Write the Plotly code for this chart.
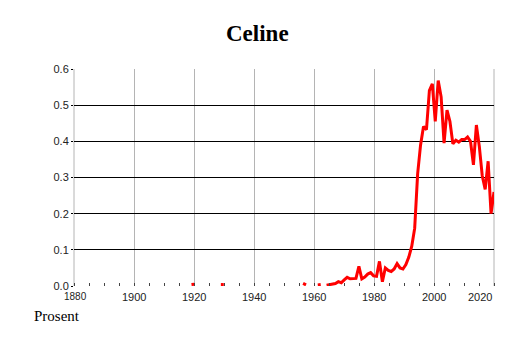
import plotly.graph_objects as go

# ---- data (share of girls named Celine, percent) ----
years = list(range(1920, 2024))
values = [
    0.004, 0.005, None, None, None, None, None, None, None, None,      # 1920s
    0.004, 0.004, None, None, None, None, None, None, None, None,      # 1930s
    None, None, None, None, None, None, None, None, None, None,        # 1940s
    None, None, None, None, None, None, None, None, 0.007, 0.003,      # 1950s
    None, None, None, 0.003, 0.004, None, 0.002, 0.003, 0.006, 0.007,  # 1960s
    0.012, 0.009, 0.017, 0.024, 0.020, 0.021, 0.021, 0.054, 0.020, 0.025,  # 1970s
    0.033, 0.037, 0.028, 0.027, 0.068, 0.012, 0.050, 0.043, 0.040, 0.047,  # 1980s
    0.062, 0.050, 0.047, 0.059, 0.080, 0.110, 0.160, 0.310, 0.390, 0.441,  # 1990s
    0.432, 0.540, 0.559, 0.455, 0.568, 0.523, 0.395, 0.486, 0.455, 0.393,  # 2000s
    0.403, 0.398, 0.405, 0.405, 0.412, 0.400, 0.335, 0.445, 0.386, 0.305,  # 2010s
    0.267, 0.345, 0.200, 0.260,                                           # 2020s
]
assert len(years) == len(values)

x_ticks = [1880, 1900, 1920, 1940, 1960, 1980, 2000, 2020]
x_tick_labels = ["1880", "1900", "1920", "1940", "1960", "1980", "2000", "2020"]
y_ticks = [0.0, 0.1, 0.2, 0.3, 0.4, 0.5, 0.6]
title_text = "Celine"
y_unit = "Prosent"

fig = go.Figure()
fig.add_trace(go.Scatter(
    x=years, y=values, mode="lines", xaxis="x2", yaxis="y",
    line=dict(color="#ff0000", width=3), connectgaps=False,
    hoverinfo="skip", showlegend=False,
))

sans = "Liberation Sans, Arial, sans-serif"
serif = "Liberation Serif, Times New Roman, serif"

# page body has an 8px margin, so the figure is offset by (8, 8)
fig.update_layout(
    width=506, height=335,
    margin=dict(l=66, r=20, t=61, b=57),
    paper_bgcolor="white", plot_bgcolor="white",
    xaxis=dict(
        range=[1880, 2020], tickmode="array", tickvals=x_ticks,
        showticklabels=False, showgrid=True, gridcolor="#b4b4b4", gridwidth=1,
        zeroline=False, showline=False, ticks="",
        minor=dict(dtick=5, tick0=1880, ticks="inside", ticklen=3,
                   tickcolor="#444", tickwidth=1, showgrid=False),
        fixedrange=True,
    ),
    xaxis2=dict(range=[1880, 2023], overlaying="x", visible=False, fixedrange=True),
    yaxis=dict(
        range=[0, 0.6], tickmode="array", tickvals=y_ticks, tickformat=".1f",
        showgrid=True, gridcolor="#000000", gridwidth=1, zeroline=False,
        showline=False, ticks="outside", ticklen=2, tickcolor="#000",
        tickfont=dict(family=sans, size=11, color="#222"),
        fixedrange=True,
    ),
    shapes=[
        dict(type="line", xref="paper", yref="paper", x0=0, x1=0, y0=0, y1=1,
             line=dict(color="#b4b4b4", width=1), layer="below"),
        dict(type="line", xref="paper", yref="paper", x0=1, x1=1, y0=0, y1=1,
             line=dict(color="#b4b4b4", width=1), layer="below"),
    ],
)

# title
fig.add_annotation(
    text="<b>%s</b>" % title_text, xref="paper", yref="paper",
    x=(257 - 74) / 420, y=1 + (69 - 33) / 217,
    xanchor="center", yanchor="middle", showarrow=False,
    font=dict(family=serif, size=23, color="black"),
)

# x tick labels
for v, lab in zip(x_ticks, x_tick_labels):
    if v == 1880:
        fig.add_annotation(text=lab, x=v, xref="x", y=0, yref="paper",
                           xanchor="center", yanchor="top", yshift=-3, xshift=1,
                           showarrow=False,
                           font=dict(family=sans, size=10, color="#222"))
    elif v == 2020:
        fig.add_annotation(text=lab, x=v, xref="x", y=0, yref="paper",
                           xanchor="right", yanchor="top", yshift=-3,
                           showarrow=False,
                           font=dict(family=sans, size=11, color="#222"))
    else:
        fig.add_annotation(text=lab, x=v, xref="x", y=0, yref="paper",
                           xanchor="center", yanchor="top", yshift=-3,
                           showarrow=False,
                           font=dict(family=sans, size=11, color="#222"))

# unit label
fig.add_annotation(
    text=y_unit, xref="paper", yref="paper",
    x=(32 - 74) / 420, y=(286 - 316) / 217, xanchor="left", yanchor="middle",
    showarrow=False, font=dict(family=serif, size=15, color="black"),
)

fig.write_html("out.html")
